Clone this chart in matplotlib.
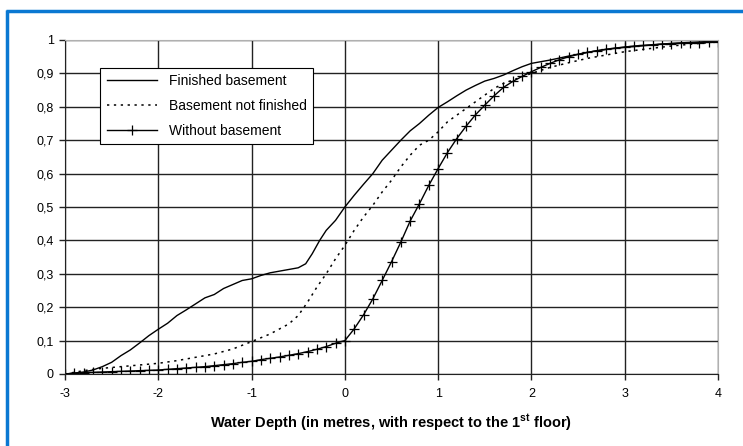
import matplotlib
matplotlib.use("Agg")
import matplotlib.pyplot as plt
from matplotlib.lines import Line2D
from matplotlib.ticker import FuncFormatter

plt.rcParams["font.family"] = ["Liberation Sans", "DejaVu Sans"]
plt.rcParams["mathtext.fontset"] = "custom"
plt.rcParams["mathtext.rm"] = "Liberation Sans"
plt.rcParams["mathtext.bf"] = "Liberation Sans:bold"
plt.rcParams["axes.unicode_minus"] = False

# Finished basement (solid line)
finished_x = [-3.0, -2.8, -2.7, -2.6, -2.5, -2.4, -2.3, -2.2, -2.1, -2.0, -1.9, -1.8,
              -1.7, -1.6, -1.5, -1.4, -1.3, -1.2, -1.1, -1.0, -0.9, -0.8, -0.7, -0.6,
              -0.5, -0.42, -0.35, -0.27, -0.2, -0.1, 0.0, 0.1, 0.2, 0.3, 0.4, 0.5, 0.6,
              0.7, 0.8, 0.9, 1.0, 1.1, 1.2, 1.3, 1.4, 1.5, 1.6, 1.7, 1.8, 1.9, 2.0,
              2.2, 2.4, 2.6, 2.8, 3.0, 3.5, 4.0]
finished_y = [0.0, 0.006, 0.012, 0.022, 0.035, 0.055, 0.072, 0.093, 0.115, 0.134, 0.152,
              0.175, 0.192, 0.21, 0.228, 0.238, 0.256, 0.268, 0.28, 0.285, 0.295, 0.303,
              0.308, 0.313, 0.318, 0.33, 0.36, 0.40, 0.43, 0.46, 0.50, 0.535, 0.568, 0.60,
              0.64, 0.67, 0.70, 0.728, 0.75, 0.775, 0.798, 0.815, 0.833, 0.85, 0.864,
              0.877, 0.885, 0.895, 0.908, 0.92, 0.93, 0.94, 0.952, 0.963, 0.972, 0.978,
              0.99, 0.997]

# Basement not finished (dotted line)
not_finished_x = [-3.0, -2.8, -2.6, -2.4, -2.2, -2.0, -1.8, -1.6, -1.4, -1.2, -1.0, -0.8,
                  -0.6, -0.5, -0.4, -0.3, -0.2, -0.1, 0.0, 0.1, 0.2, 0.3, 0.4, 0.5, 0.6,
                  0.7, 0.8, 0.9, 1.0, 1.1, 1.2, 1.3, 1.4, 1.5, 1.6, 1.7, 1.8, 1.9, 2.0,
                  2.2, 2.4, 2.6, 2.8, 3.0, 3.2, 3.5, 4.0]
not_finished_y = [0.0, 0.01, 0.017, 0.022, 0.027, 0.032, 0.04, 0.05, 0.06, 0.075, 0.097,
                  0.12, 0.15, 0.175, 0.215, 0.26, 0.30, 0.345, 0.385, 0.43, 0.47, 0.505,
                  0.545, 0.58, 0.62, 0.655, 0.685, 0.70, 0.725, 0.755, 0.775, 0.795, 0.815,
                  0.835, 0.855, 0.87, 0.88, 0.89, 0.90, 0.918, 0.932, 0.945, 0.955, 0.965,
                  0.972, 0.982, 0.995]

# Without basement (line with + markers), every 0.1 m from -3 to 4
without_x = [round(-3.0 + 0.1 * i, 1) for i in range(71)]
without_y = [0.000, 0.002, 0.004, 0.005, 0.006, 0.007, 0.008, 0.009, 0.010, 0.011,
             0.012, 0.014, 0.016, 0.018, 0.020, 0.022, 0.025, 0.028, 0.031, 0.035,
             0.038, 0.043, 0.047, 0.051, 0.056, 0.061, 0.067, 0.074, 0.082, 0.092,
             0.100, 0.135, 0.177, 0.225, 0.280, 0.336, 0.395, 0.458, 0.510, 0.565,
             0.615, 0.663, 0.705, 0.742, 0.776, 0.805, 0.833, 0.858, 0.876, 0.891,
             0.905, 0.918, 0.930, 0.941, 0.950, 0.957, 0.963, 0.968, 0.972, 0.976,
             0.979, 0.982, 0.984, 0.986, 0.988, 0.989, 0.990, 0.991, 0.992, 0.993,
             0.995]

x_ticks = [-3, -2, -1, 0, 1, 2, 3, 4]
y_ticks = [0, 0.1, 0.2, 0.3, 0.4, 0.5, 0.6, 0.7, 0.8, 0.9, 1.0]

fig = plt.figure(figsize=(7.43, 4.46), dpi=100)
ax = fig.add_axes([65 / 743, 1 - 374 / 446, 653 / 743, 334 / 446])

# blue frame on the left and top of the figure
blue = "#0a78d2"
fig.add_artist(Line2D([7.5 / 743, 7.5 / 743], [0, 1 - 10 / 446], color=blue, lw=2.5,
                      transform=fig.transFigure, solid_capstyle="butt"))
fig.add_artist(Line2D([6.3 / 743, 1], [1 - 11.2 / 446, 1 - 11.2 / 446], color=blue, lw=2.5,
                      transform=fig.transFigure, solid_capstyle="butt"))

ax.plot(finished_x, finished_y, color="black", lw=1.0, label="Finished basement")
ax.plot(not_finished_x, not_finished_y, color="black", lw=1.1, ls=(0, (1.5, 3)),
        label="Basement not finished")
ax.plot(without_x, without_y, color="black", lw=1.0, marker="+", ms=7, mew=0.9,
        label="Without basement")

ax.set_xlim(-3, 4)
ax.set_ylim(0, 1)
ax.set_xticks(x_ticks)
ax.set_yticks(y_ticks)
ax.yaxis.set_major_formatter(FuncFormatter(lambda v, p: f"{v:g}".replace(".", ",")))
ax.grid(True, color="#222222", lw=1.0)
ax.set_axisbelow(True)
ax.tick_params(labelsize=9, length=4, width=1, color="#222222", pad=4)
ax.tick_params(axis="x", pad=6)
for side in ("top", "right"):
    ax.spines[side].set_color("#b0b0b0")
for side in ("left", "bottom"):
    ax.spines[side].set_color("#222222")

ax.set_xlabel(r"Water Depth (in metres, with respect to the 1$^{\mathbf{st}}$ floor)",
              fontsize=10.5, fontweight="bold", labelpad=9)

leg = ax.legend(loc="upper left", bbox_to_anchor=(0.054, 0.916), fontsize=10,
                frameon=True, fancybox=False, edgecolor="black", framealpha=1,
                handlelength=3.6, borderpad=0.45, labelspacing=0.78, handletextpad=0.9,
                borderaxespad=0)
leg.get_frame().set_linewidth(0.8)

fig.savefig("out.png", dpi=100)
